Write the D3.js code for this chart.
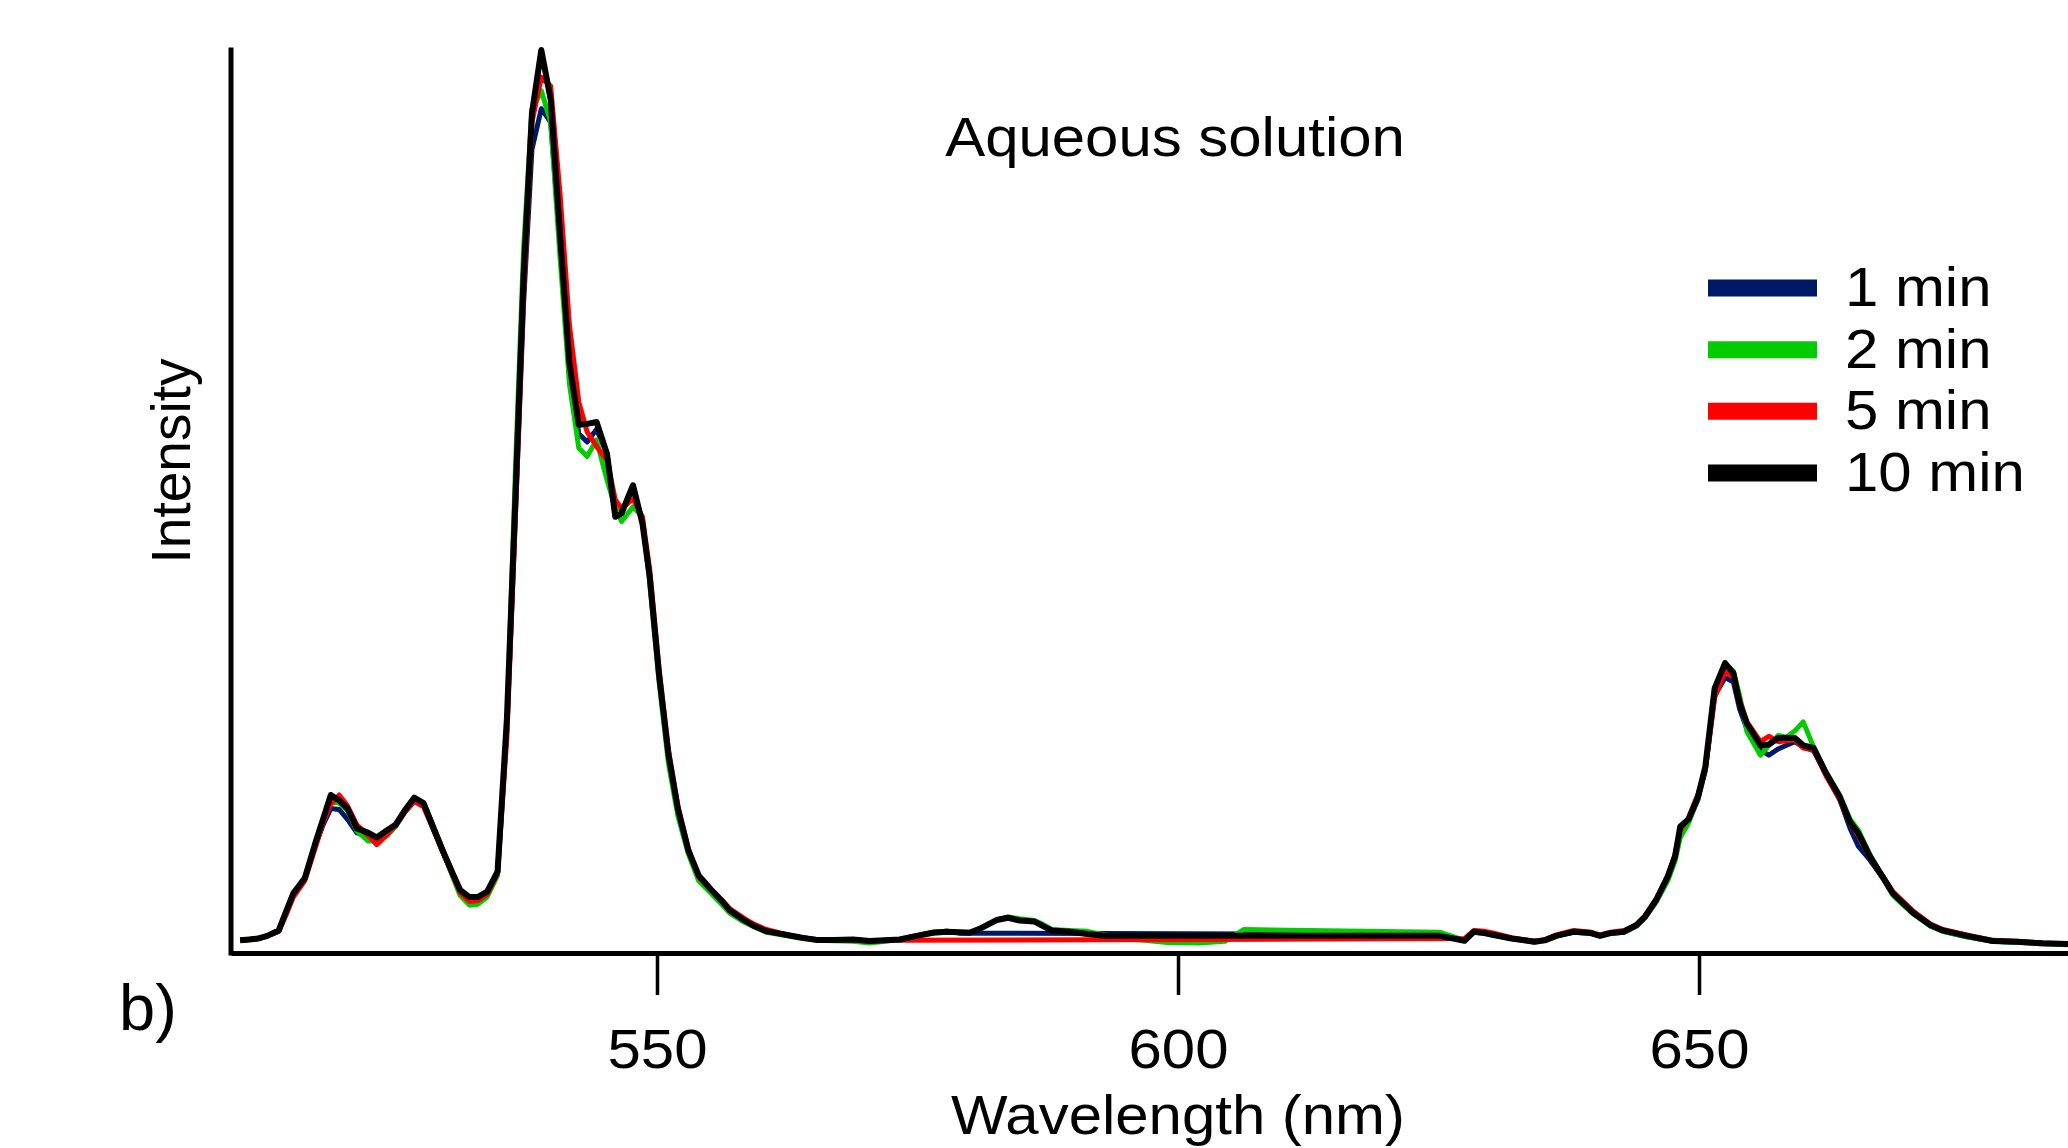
<!DOCTYPE html>
<html>
<head>
<meta charset="utf-8">
<script src="https://cdn.jsdelivr.net/npm/d3@7"></script>
<style>
  html, body { margin: 0; padding: 0; background: #fff; overflow: hidden; }
  text { font-family: "Liberation Sans", Arial, sans-serif; fill: #000; }
</style>
</head>
<body>
<div id="chart"></div>
<script>
//longueurs d'onde (nm)
const wavelengths = [
  510.0, 510.9, 511.7, 512.6, 513.7, 514.4, 515.1, 516.2, 517.3, 518.0,
  518.7, 519.5, 520.3, 521.2, 522.3, 523.1, 524.1, 524.9, 525.8, 526.7,
  527.6, 528.5, 529.5, 530.4, 531.1, 532.0, 532.8, 533.7, 534.7, 535.6,
  536.4, 537.2, 538.0, 538.9, 539.8, 540.7, 541.6, 542.5, 543.3, 544.2,
  545.2, 546.0, 546.6, 547.7, 548.6, 549.3, 550.2, 551.1, 552.0, 553.0,
  554.0, 555.2, 556.2, 557.0, 558.4, 559.3, 560.5, 561.5, 562.5, 563.9,
  565.3, 567.0, 568.8, 570.4, 571.9, 573.3, 574.9, 576.5, 577.8, 579.0,
  580.0, 581.1, 582.6, 583.7, 584.8, 586.2, 587.0, 587.9, 589.6, 591.3,
  593.0, 596.0, 599.0, 602.0, 604.5, 606.3, 625.1, 627.5, 628.4, 629.4,
  630.3, 632.0, 634.2, 635.2, 636.3, 638.0, 639.6, 640.5, 641.5, 642.8,
  644.0, 644.8, 645.9, 647.0, 647.7, 648.2, 649.0, 649.9, 650.6, 651.5,
  652.5, 653.3, 653.9, 654.6, 655.9, 656.7, 657.6, 658.4, 659.2, 660.0,
  661.0, 662.2, 663.5, 664.5, 665.3, 666.4, 667.7, 668.6, 669.6, 670.6,
  672.2, 673.4, 675.7, 678.2, 680.5, 683.0, 685.5, 687.0
];

//intensites (u.a.), null = pas de mesure
const min1 = [
  1.4, 1.5, 1.6, 1.9, 2.5, 4.5, 6.4, 8.2, 12.2, 14.3,
  16.0, 15.9, 14.8, 13.3, 13.0, 12.6, 13.4, 14.0, 15.6, 16.8,
  16.3, 13.8, 11.0, 8.6, 6.8, 6.0, 6.0, 6.7, 9.0, 25.0,
  48.0, 72.0, 89.0, 93.5, 92.0, 78.5, 64.5, 57.5, 56.6, 58.0,
  55.3, 48.8, 48.9, 51.4, 47.8, 41.5, 30.6, 21.8, 15.8, 11.2,
  8.5, 6.9, 5.6, 4.6, 3.6, 3.0, 2.4, 2.2, 2.0, 1.7,
  1.5, 1.45, 1.45, 1.35, 1.4, 1.5, 1.9, 2.3, 2.4, 2.2,
  null, null, null, null, null, null, null, null, null, null,
  null, null, null, null, null, null, 2.05, 1.4, 2.3, 2.2,
  2.0, 1.6, 1.3, 1.4, 1.9, 2.3, 2.2, 1.9, 2.2, 2.3,
  3.0, 3.9, 5.7, 8.2, 10.4, 13.2, 14.6, 17.0, 20.2, 28.5,
  30.5, 30.0, 27.0, 24.8, 22.5, 21.9, 22.6, 23.0, 23.4, 22.8,
  22.4, 19.8, 17.0, 13.8, 11.8, 10.3, 8.2, 6.6, 5.5, 4.4,
  3.0, 2.4, 1.8, 1.3, 1.2, 1.05, 1.0, 0.95
];

const min2 = [
  1.4, 1.5, 1.6, 1.9, 2.4, 4.3, 6.3, 8.1, 12.3, 14.8,
  16.8, 16.6, 15.8, 13.5, 12.4, 12.4, 13.0, 14.0, 15.8, 16.9,
  16.6, 14.2, 11.2, 8.4, 6.4, 5.3, 5.4, 6.2, 8.6, 25.0,
  53.0, 78.0, 93.4, 95.5, 92.0, 77.0, 63.0, 55.9, 55.0, 56.8,
  52.4, 49.3, 47.8, 49.4, 48.3, 41.0, 30.0, 21.0, 15.2, 11.0,
  8.0, 6.6, 5.4, 4.4, 3.4, 2.9, 2.3, 2.1, 1.9, 1.6,
  1.4, 1.35, 1.3, 1.1, 1.3, 1.5, 1.9, 2.3, 2.4, 2.3,
  2.3, 2.8, 3.7, 4.0, 3.8, 3.6, 3.2, 2.6, 2.5, 2.4,
  2.0, 1.5, 1.15, 1.1, 1.3, 2.6, 2.3, 1.4, 2.3, 2.2,
  2.0, 1.6, 1.2, 1.4, 1.9, 2.4, 2.3, 1.9, 2.2, 2.3,
  3.0, 3.9, 5.7, 8.0, 10.2, 12.8, 14.4, 17.2, 20.4, 29.0,
  32.0, 31.2, 28.5, 24.5, 21.9, 23.0, 24.1, 23.9, 24.6, 25.6,
  22.8, 20.0, 17.5, 14.8, 13.6, 10.9, 8.2, 6.4, 5.3, 4.3,
  3.0, 2.4, 1.8, 1.3, 1.2, 1.0, 0.9, 0.9
];

const min5 = [
  1.4, 1.5, 1.6, 1.9, 2.4, 4.2, 6.2, 8.0, 12.0, 14.6,
  16.5, 17.5, 16.3, 14.2, 13.0, 12.0, 13.1, 14.1, 15.6, 16.8,
  16.2, 13.8, 11.0, 8.6, 6.7, 5.7, 5.8, 6.5, 8.8, 24.0,
  48.0, 73.0, 92.0, 97.0, 96.0, 84.0, 69.5, 61.0, 57.7, 56.1,
  54.6, 50.2, 49.2, 50.3, 48.3, 42.5, 31.5, 22.5, 16.3, 11.6,
  8.4, 7.0, 5.9, 4.9, 3.8, 3.2, 2.6, 2.3, 2.0, 1.7,
  1.45, 1.5, 1.45, 1.35, 1.4, 1.4, null, null, null, null,
  null, null, null, null, null, null, null, null, null, null,
  null, null, null, null, null, null, null, 1.6, 2.5, 2.4,
  2.2, 1.7, 1.3, 1.5, 2.0, 2.5, 2.3, 2.0, 2.3, 2.5,
  3.1, 4.1, 6.0, 8.6, 10.9, 13.6, 15.0, 17.6, 20.2, 28.3,
  31.2, 30.5, 28.0, 25.6, 23.4, 24.0, 23.4, 23.5, 23.6, 22.7,
  22.5, 19.6, 17.0, 14.4, 13.0, 10.6, 8.4, 6.8, 5.7, 4.6,
  3.2, 2.6, 2.0, 1.4, 1.3, 1.1, 1.0, 0.95
];

const min10 = [
  1.4, 1.5, 1.6, 1.9, 2.5, 4.6, 6.6, 8.3, 12.5, 15.0,
  17.5, 16.9, 16.0, 13.8, 13.3, 12.8, 13.6, 14.2, 15.8, 17.2,
  16.6, 14.0, 11.2, 8.8, 7.0, 6.2, 6.2, 6.8, 9.0, 26.0,
  50.0, 75.0, 93.0, 100.0, 94.5, 79.5, 65.3, 58.5, 58.6, 58.8,
  55.3, 48.3, 48.7, 51.8, 47.6, 41.7, 30.8, 22.0, 16.0, 11.4,
  8.6, 7.0, 5.8, 4.7, 3.6, 3.0, 2.4, 2.2, 2.0, 1.7,
  1.45, 1.45, 1.5, 1.33, 1.4, 1.5, 1.9, 2.25, 2.36, 2.3,
  2.25, 2.75, 3.65, 3.9, 3.6, 3.5, 3.0, 2.5, 2.36, 2.1,
  1.9, null, null, null, null, null, 1.9, 1.36, 2.36, 2.2,
  2.0, 1.6, 1.25, 1.4, 1.9, 2.36, 2.2, 1.9, 2.2, 2.36,
  3.1, 4.0, 5.9, 8.45, 10.7, 14.0, 14.8, 17.3, 20.6, 29.3,
  32.1, 31.0, 27.65, 25.4, 23.0, 23.1, 23.8, 23.8, 23.8, 23.0,
  22.7, 19.9, 17.3, 14.5, 13.25, 10.7, 8.3, 6.6, 5.5, 4.4,
  3.1, 2.5, 1.9, 1.33, 1.25, 1.07, 1.0, 0.95
];

const seriesNames = ["1 min", "2 min", "5 min", "10 min"];
const xTicks = [550, 600, 650];

//svg
const svg = d3.select("#chart")
  .append("svg")
  .attr("width", 2068)
  .attr("height", 1148);

//echelles
const x = d3.scaleLinear().domain([509.12, 685.41]).range([231, 2068]);
const y = d3.scaleLinear().domain([0, 100]).range([953, 50]);
const color = d3.scaleOrdinal()
  .domain(seriesNames)
  .range(["#001966", "#00cc00", "#ff0000", "#000000"]);

const line = d3.line()
  .x(d => x(d.w))
  .y(d => y(d.v));

//courbes (le 10 min dessine en dernier)
const allSeries = [min1, min2, min5, min10];
allSeries.forEach((values, i) => {
  const pts = wavelengths
    .map((w, j) => ({ w: w, v: values[j] }))
    .filter(d => d.v !== null);
  svg.append("path")
    .datum(pts)
    .attr("d", line)
    .attr("fill", "none")
    .attr("stroke", color(seriesNames[i]))
    .attr("stroke-width", i === 3 ? 6 : 5)
    .attr("stroke-linejoin", "round");
});

//axe x
const xAxis = svg.append("g")
  .attr("transform", "translate(0,953)")
  .call(d3.axisBottom(x)
    .tickValues(xTicks)
    .tickSize(42)
    .tickSizeOuter(0)
    .tickPadding(33)
    .tickFormat(d3.format("d")));
xAxis.select(".domain").attr("stroke-width", 5).attr("stroke", "#000");
xAxis.selectAll(".tick line").attr("stroke-width", 3.5).attr("stroke", "#000");
xAxis.selectAll(".tick text")
  .style("font-size", "56px")
  .style("font-family", "'Liberation Sans', Arial, sans-serif")
  .attr("fill", "#000")
  .attr("transform", "scale(1.07,1)");

//axe y (sans graduations)
svg.append("line")
  .attr("x1", 231).attr("x2", 231)
  .attr("y1", y(100)).attr("y2", y(0))
  .attr("stroke", "#000")
  .attr("stroke-width", 5)
  .attr("stroke-linecap", "square");

//textes
svg.append("text")
  .attr("transform", "translate(1175,156) scale(1.07,1)")
  .attr("text-anchor", "middle")
  .style("font-size", "56px")
  .text("Aqueous solution");

svg.append("text")
  .attr("transform", "translate(190,461) rotate(-90)")
  .attr("text-anchor", "middle")
  .style("font-size", "55px")
  .text("Intensity");

svg.append("text")
  .attr("transform", "translate(1178,1134) scale(1.07,1)")
  .attr("text-anchor", "middle")
  .style("font-size", "56px")
  .text("Wavelength (nm)");

svg.append("text")
  .attr("x", 119)
  .attr("y", 1030)
  .style("font-size", "65px")
  .text("b)");

//legende
const ly = d3.scaleLinear().domain([0, 3]).range([288, 473]);
const legend = svg.append("g");
seriesNames.forEach((name, i) => {
  legend.append("line")
    .attr("x1", 1708).attr("x2", 1817)
    .attr("y1", ly(i)).attr("y2", ly(i))
    .attr("stroke", color(name))
    .attr("stroke-width", 17);
  legend.append("text")
    .attr("transform", `translate(1845,${ly(i) + 18}) scale(1.07,1)`)
    .style("font-size", "56px")
    .text(name);
});
</script>
</body>
</html>
